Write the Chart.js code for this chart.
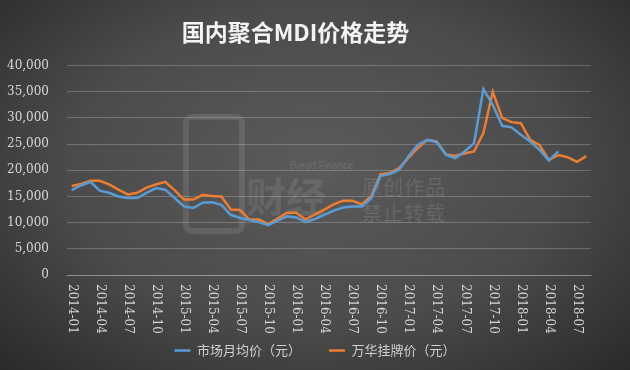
<!DOCTYPE html>
<html>
<head>
<meta charset="utf-8">
<script src="https://cdn.jsdelivr.net/npm/chart.js@4/dist/chart.umd.min.js"></script>
<style>
html, body { margin: 0; padding: 0; }
body {
    width: 630px; height: 370px; overflow: hidden; position: relative;
    background: radial-gradient(ellipse 70% 78% at 50% 45%, #5b5b5b 0%, #4b4b4b 55%, #2a2a2a 100%);
}
#wrap { position: absolute; left: 0; top: 0; width: 630px; height: 370px; }
.wm { position: absolute; color: rgba(255,255,255,0.12); font-family: "Noto Sans CJK SC", sans-serif; white-space: nowrap; }
.logo { position: absolute; left: 183px; top: 114px; width: 50px; height: 108px; border: 6px solid rgba(255,255,255,0.1); border-radius: 9px; }
</style>
</head>
<body>
<div class="logo"></div>
<div class="wm" style="left:290px;top:160px;font-size:10px;font-family:Roboto,sans-serif;">Bread Finance</div>
<div class="wm" style="left:246px;top:166px;font-size:40px;font-weight:bold;color:rgba(255,255,255,0.1);">财经</div>
<div class="wm" style="left:362px;top:174px;font-size:20px;line-height:26px;letter-spacing:1px;">原创作品<br>禁止转载</div>
<div id="wrap"><canvas id="mdiChart" width="630" height="370"></canvas></div>
<script>
const months = [
    '2014-01','2014-02','2014-03','2014-04','2014-05','2014-06','2014-07','2014-08','2014-09','2014-10','2014-11','2014-12',
    '2015-01','2015-02','2015-03','2015-04','2015-05','2015-06','2015-07','2015-08','2015-09','2015-10','2015-11','2015-12',
    '2016-01','2016-02','2016-03','2016-04','2016-05','2016-06','2016-07','2016-08','2016-09','2016-10','2016-11','2016-12',
    '2017-01','2017-02','2017-03','2017-04','2017-05','2017-06','2017-07','2017-08','2017-09','2017-10','2017-11','2017-12',
    '2018-01','2018-02','2018-03','2018-04','2018-05','2018-06','2018-07','2018-08'
];

// 市场月均价（元）
const marketPrice = [
    16200, 17100, 17800, 16100, 15700, 15000, 14700, 14700, 15700, 16600, 16300, 14700,
    13100, 12800, 13800, 13900, 13400, 11500, 10900, 10500, 10100, 9500, 10400, 11200,
    11000, 10100, 10700, 11500, 12300, 12900, 13100, 13100, 14600, 18900, 19300, 20100,
    22700, 24900, 25800, 25400, 23000, 22300, 23600, 25200, 35500, 32500, 28500, 28200,
    26800, 25500, 23900, 21900, 23600
];

// 万华挂牌价（元）
const wanhuaPrice = [
    17000, 17400, 18000, 18000, 17300, 16300, 15400, 15700, 16700, 17300, 17800, 16200,
    14400, 14400, 15300, 15100, 15000, 12500, 12400, 10600, 10600, 9700, 10800, 11900,
    11900, 10600, 11600, 12500, 13500, 14200, 14200, 13500, 15000, 19200, 19500, 20400,
    22400, 24300, 25800, 25500, 23000, 22800, 23200, 23600, 27100, 35000, 30000, 29200,
    29000, 25800, 24800, 22000, 22900, 22500, 21600, 22700
];

const yTicks = [0, 5000, 10000, 15000, 20000, 25000, 30000, 35000, 40000];

const serifFont = "'DejaVu Serif', 'Liberation Serif', serif";
const cjkFont = "'Noto Sans CJK SC', sans-serif";

function fmt(v) {
    return v.toString().replace(/\B(?=(\d{3})+(?!\d))/g, ',');
}

// x 轴标签顺时针旋转 90 度
const xLabelPlugin = {
    id: 'xLabels',
    afterLayout(chart) {
        // 图例相对整个画布居中
        const lg = chart.legend;
        if (lg) { lg.left += 19.5; lg.right += 19.5; }
    },
    afterDraw(chart) {
        const { ctx } = chart;
        const x = chart.scales.x;
        ctx.save();
        ctx.font = '12px ' + serifFont;
        ctx.fillStyle = '#d6d6d6';
        ctx.textAlign = 'left';
        ctx.textBaseline = 'middle';
        months.forEach((m, i) => {
            if (i % 3 !== 0) return;
            const px = x.getPixelForValue(i);
            ctx.save();
            ctx.translate(px, x.top + 9);
            ctx.rotate(Math.PI / 2);
            ctx.fillText(m, 0, 0);
            ctx.restore();
        });
        ctx.restore();
    }
};

new Chart(document.getElementById('mdiChart'), {
    type: 'line',
    data: {
        labels: months,
        datasets: [
            {
                label: '市场月均价（元）',
                data: marketPrice,
                borderColor: '#5b9bd5',
                backgroundColor: '#5b9bd5',
                borderWidth: 2.5,
                pointRadius: 0,
                pointStyle: 'line',
                tension: 0
            },
            {
                label: '万华挂牌价（元）',
                data: wanhuaPrice,
                borderColor: '#ed7d31',
                backgroundColor: '#ed7d31',
                borderWidth: 2.5,
                pointRadius: 0,
                pointStyle: 'line',
                tension: 0
            }
        ]
    },
    options: {
        responsive: false,
        animation: false,
        devicePixelRatio: 1,
        layout: { padding: { left: 0, right: 39, top: 0, bottom: 3 } },
        plugins: {
            title: {
                display: true,
                text: '国内聚合MDI价格走势',
                color: '#f4f4f4',
                font: { family: cjkFont, size: 23, weight: 'bold' },
                padding: { top: 18, bottom: 20 }
            },
            legend: {
                position: 'bottom',
                labels: {
                    color: '#cfcfcf',
                    font: { family: cjkFont, size: 13 },
                    usePointStyle: true,
                    pointStyleWidth: 16,
                    padding: 28
                }
            },
            tooltip: { enabled: false }
        },
        scales: {
            x: {
                offset: true,
                grid: { display: false },
                border: { display: true, color: 'rgba(255,255,255,0.25)' },
                ticks: {
                    color: 'transparent',
                    autoSkip: false,
                    minRotation: 90,
                    maxRotation: 90,
                    font: { family: serifFont, size: 12 },
                    callback: (v, i) => (i % 3 === 0 ? months[i] : '')
                },
                afterFit: (s) => { s.height = 41; }
            },
            y: {
                min: 0,
                max: 40000,
                afterBuildTicks: (s) => { s.ticks = yTicks.map(v => ({ value: v })); },
                grid: { color: 'rgba(255,255,255,0.22)', drawTicks: false },
                border: { display: false },
                ticks: {
                    color: '#d6d6d6',
                    padding: 18,
                    font: { family: serifFont, size: 12 },
                    callback: (v) => fmt(v)
                },
                afterFit: (s) => { s.width = 67; }
            }
        }
    },
    plugins: [xLabelPlugin]
});
</script>
</body>
</html>
